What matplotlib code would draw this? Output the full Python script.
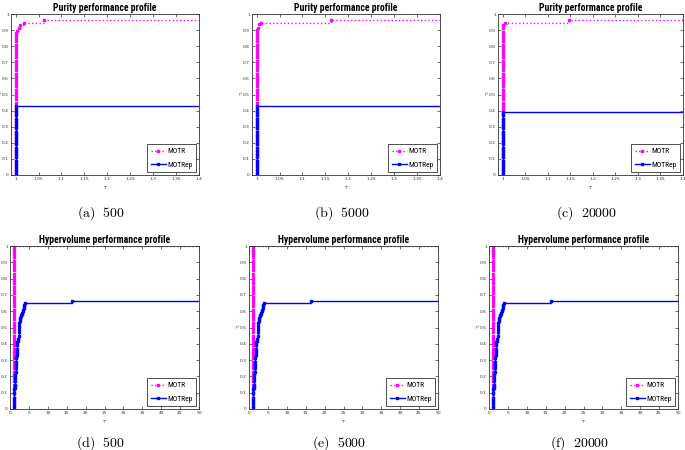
import matplotlib
matplotlib.use("Agg")
import matplotlib.pyplot as plt
from matplotlib import font_manager

plt.rcParams['mathtext.fontset'] = 'cm'

# ---------------- data ----------------
captions = ["(a)  500", "(b)  5000", "(c)  20000", "(d)  500", "(e)  5000", "(f)  20000"]
titles = ["Purity performance profile"] * 3 + ["Hypervolume performance profile"] * 3
series_names = ["MOTR", "MOTRep"]

purity_xticks = [1, 1.05, 1.1, 1.15, 1.2, 1.25, 1.3, 1.35, 1.4]
purity_xticklabels = ["1", "1.05", "1.1", "1.15", "1.2", "1.25", "1.3", "1.35", "1.4"]
hv_xticks = [0, 5, 10, 15, 20, 25, 30, 35, 40, 45, 50]
hv_xticklabels = ["0", "5", "10", "15", "20", "25", "30", "35", "40", "45", "50"]
yticks = [0, 0.1, 0.2, 0.3, 0.4, 0.5, 0.6, 0.7, 0.8, 0.9, 1]
yticklabels = ["0", "0.1", "0.2", "0.3", "0.4", "0.5", "0.6", "0.7", "0.8", "0.9", "1"]

# Purity, 500
pa_motr_tau = [1, 1, 1, 1, 1, 1, 1, 1, 1, 1,
               1, 1, 1, 1, 1, 1, 1, 1, 1, 1,
               1, 1, 1, 1, 1, 1, 1, 1, 1, 1,
               1, 1, 1, 1, 1, 1, 1, 1, 1, 1,
               1, 1, 1, 1,
               1.001, 1.003, 1.007, 1.010, 1.019, 1.063, 1.4]
pa_motr_rho = [0.01, 0.03, 0.05, 0.07, 0.09, 0.11, 0.13, 0.15, 0.17, 0.19,
               0.21, 0.23, 0.25, 0.27, 0.29, 0.31, 0.33, 0.35, 0.37, 0.39,
               0.41, 0.43, 0.45, 0.47, 0.49, 0.51, 0.53, 0.55, 0.57, 0.59,
               0.61, 0.63, 0.65, 0.67, 0.69, 0.71, 0.73, 0.75, 0.77, 0.79,
               0.81, 0.83, 0.85, 0.87,
               0.88, 0.895, 0.915, 0.93, 0.946, 0.963, 0.963]
pa_rep_tau = [1, 1, 1, 1, 1, 1, 1, 1, 1, 1,
              1, 1, 1, 1, 1, 1, 1, 1, 1, 1,
              1, 1, 1.4]
pa_rep_rho = [0.01, 0.03, 0.05, 0.07, 0.09, 0.11, 0.13, 0.15, 0.17, 0.19,
              0.21, 0.23, 0.25, 0.27, 0.29, 0.31, 0.33, 0.35, 0.37, 0.39,
              0.41, 0.427, 0.427]

# Purity, 5000
pb_motr_tau = [1, 1, 1, 1, 1, 1, 1, 1, 1, 1,
               1, 1, 1, 1, 1, 1, 1, 1, 1, 1,
               1, 1, 1, 1, 1, 1, 1, 1, 1, 1,
               1, 1, 1, 1, 1, 1, 1, 1, 1, 1,
               1, 1, 1, 1, 1, 1,
               1.002, 1.005, 1.009, 1.162, 1.4]
pb_motr_rho = [0.01, 0.03, 0.05, 0.07, 0.09, 0.11, 0.13, 0.15, 0.17, 0.19,
               0.21, 0.23, 0.25, 0.27, 0.29, 0.31, 0.33, 0.35, 0.37, 0.39,
               0.41, 0.43, 0.45, 0.47, 0.49, 0.51, 0.53, 0.55, 0.57, 0.59,
               0.61, 0.63, 0.65, 0.67, 0.69, 0.71, 0.73, 0.75, 0.77, 0.79,
               0.81, 0.83, 0.85, 0.87, 0.89, 0.90,
               0.915, 0.935, 0.946, 0.963, 0.963]
pb_rep_tau = [1, 1, 1, 1, 1, 1, 1, 1, 1, 1,
              1, 1, 1, 1, 1, 1, 1, 1, 1, 1,
              1, 1, 1.4]
pb_rep_rho = [0.01, 0.03, 0.05, 0.07, 0.09, 0.11, 0.13, 0.15, 0.17, 0.19,
              0.21, 0.23, 0.25, 0.27, 0.29, 0.31, 0.33, 0.35, 0.37, 0.39,
              0.41, 0.427, 0.427]

# Purity, 20000
pc_motr_tau = [1, 1, 1, 1, 1, 1, 1, 1, 1, 1,
               1, 1, 1, 1, 1, 1, 1, 1, 1, 1,
               1, 1, 1, 1, 1, 1, 1, 1, 1, 1,
               1, 1, 1, 1, 1, 1, 1, 1, 1, 1,
               1, 1, 1, 1, 1, 1, 1,
               1.0065, 1.147, 1.4]
pc_motr_rho = [0.01, 0.03, 0.05, 0.07, 0.09, 0.11, 0.13, 0.15, 0.17, 0.19,
               0.21, 0.23, 0.25, 0.27, 0.29, 0.31, 0.33, 0.35, 0.37, 0.39,
               0.41, 0.43, 0.45, 0.47, 0.49, 0.51, 0.53, 0.55, 0.57, 0.59,
               0.61, 0.63, 0.65, 0.67, 0.69, 0.71, 0.73, 0.75, 0.77, 0.79,
               0.81, 0.83, 0.85, 0.87, 0.89, 0.91, 0.932,
               0.946, 0.963, 0.963]
pc_rep_tau = [1, 1, 1, 1, 1, 1, 1, 1, 1, 1,
              1, 1, 1, 1, 1, 1, 1, 1, 1, 1,
              1.4]
pc_rep_rho = [0.01, 0.03, 0.05, 0.07, 0.09, 0.11, 0.13, 0.15, 0.17, 0.19,
              0.21, 0.23, 0.25, 0.27, 0.29, 0.31, 0.33, 0.35, 0.37, 0.39,
              0.39]

# Hypervolume (same shape for 500 / 5000 / 20000)
hv_motr_tau = [1, 1, 1, 1, 1, 1, 1, 1, 1, 1,
               1, 1, 1, 1, 1, 1, 1, 1, 1, 1,
               1, 1, 1, 1, 1, 1, 1, 1, 1, 1,
               1, 1, 1, 1, 1, 1, 1, 1, 1, 1,
               1, 1, 1, 1, 1, 1, 1, 1, 1, 1,
               1, 50]
hv_motr_rho = [0.01, 0.03, 0.05, 0.07, 0.09, 0.11, 0.13, 0.15, 0.17, 0.19,
               0.21, 0.23, 0.25, 0.27, 0.29, 0.31, 0.33, 0.35, 0.37, 0.39,
               0.41, 0.43, 0.45, 0.47, 0.49, 0.51, 0.53, 0.55, 0.57, 0.59,
               0.61, 0.63, 0.65, 0.67, 0.69, 0.71, 0.73, 0.75, 0.77, 0.79,
               0.81, 0.83, 0.85, 0.87, 0.89, 0.91, 0.93, 0.95, 0.97, 0.99,
               1.0, 1.0]
hv_rep_tau = [1.0, 1.02, 1.05, 1.08, 1.1, 1.15, 1.2, 1.25, 1.3, 1.35,
              1.4, 1.45, 1.5, 1.55, 1.6, 1.65, 1.7, 1.75, 1.8, 1.85,
              1.9, 1.95, 2.0, 2.2, 2.3, 2.35, 2.4, 2.45, 2.5, 2.55,
              2.6, 2.7, 2.8, 3.0, 3.2, 3.3, 3.4, 3.5, 3.6, 3.7,
              3.8, 3.9, 16.3, 50]
hv_rep_rho = [0.01, 0.03, 0.05, 0.07, 0.10, 0.12, 0.13, 0.14, 0.15, 0.17,
              0.19, 0.21, 0.23, 0.25, 0.27, 0.29, 0.31, 0.33, 0.35, 0.37,
              0.39, 0.41, 0.42, 0.43, 0.45, 0.47, 0.49, 0.51, 0.53, 0.54,
              0.55, 0.56, 0.57, 0.575, 0.58, 0.59, 0.60, 0.61, 0.62, 0.63,
              0.64, 0.65, 0.665, 0.665]

panels = [
    (pa_motr_tau, pa_motr_rho, pa_rep_tau, pa_rep_rho),
    (pb_motr_tau, pb_motr_rho, pb_rep_tau, pb_rep_rho),
    (pc_motr_tau, pc_motr_rho, pc_rep_tau, pc_rep_rho),
    (hv_motr_tau, hv_motr_rho, hv_rep_tau, hv_rep_rho),
    (hv_motr_tau, hv_motr_rho, hv_rep_tau, hv_rep_rho),
    (hv_motr_tau, hv_motr_rho, hv_rep_tau, hv_rep_rho),
]

# ---------------- fonts ----------------
entries = font_manager.fontManager.ttflist
names = {f.name for f in entries}
narrow = dict(family='Liberation Sans')
title_size = 6.4
for cand in ['Liberation Sans Narrow', 'Roboto Condensed', 'Open Sans Condensed',
             'Noto Sans Condensed']:
    if cand in names:
        narrow = dict(family=cand)
        title_size = 7.0
        break
else:
    if any(f.name == 'DejaVu Sans' and f.stretch == 'condensed' for f in entries):
        narrow = dict(family='DejaVu Sans', stretch='condensed')
        title_size = 6.9

# ---------------- layout ----------------
W, H = 685, 450
boxes = [
    (11, 14, 199, 175),
    (252, 14, 440, 175),
    (498, 14, 683, 175),
    (10, 246, 199, 409),
    (249, 246, 438, 409),
    (489, 246, 678, 409),
]
caption_y = [213, 213, 213, 443, 443, 443]

fig = plt.figure(figsize=(W / 100, H / 100), dpi=100)

for i, (l, t, r, b) in enumerate(boxes):
    ax = fig.add_axes([l / W, 1 - b / H, (r - l) / W, (b - t) / H])
    m_tau, m_rho, e_tau, e_rho = panels[i]
    ax.step(m_tau, m_rho, where='post', color='#ff00ff', linestyle=':', linewidth=1.0,
            marker='s', markersize=1.9, markevery=slice(0, len(m_tau) - 1),
            label=series_names[0])
    ax.step(e_tau, e_rho, where='post', color='#0000ff', linestyle='-', linewidth=1.0,
            marker='s', markersize=1.9, markevery=slice(0, len(e_tau) - 1),
            label=series_names[1])
    if i < 3:
        ax.set_xlim(0.99, 1.4)
        ax.set_xticks(purity_xticks)
        ax.set_xticklabels(purity_xticklabels)
    else:
        ax.set_xlim(0, 50)
        ax.set_xticks(hv_xticks)
        ax.set_xticklabels(hv_xticklabels)
    ax.set_ylim(0, 1)
    ax.set_yticks(yticks)
    ax.set_yticklabels(yticklabels)
    ax.tick_params(direction='in', top=True, right=True, length=2, width=0.5,
                   labelsize=3.2, pad=1.5, colors='#333333')
    for s in ax.spines.values():
        s.set_linewidth(0.6)
        s.set_color('#333333')
    ax.set_title(titles[i], fontweight='bold', pad=2.5, size=title_size, **narrow)
    ax.set_xlabel(r'$\tau$', fontsize=4, labelpad=2)
    ax.annotate(r'$\rho$', xy=(0, 0.5), xycoords='axes fraction',
                xytext=(-9.5, 0), textcoords='offset pixels',
                fontsize=3.5, ha='right', va='center')
    leg = ax.legend(loc='lower right', prop=dict(size=5.4, **narrow), handlelength=2.0,
                    borderaxespad=0.35, borderpad=0.5, labelspacing=0.8,
                    fancybox=False, edgecolor='#333333', framealpha=1,
                    handletextpad=0.2)
    leg.get_frame().set_linewidth(0.6)
    fig.text(((l + r) / 2 - 4) / W, 1 - caption_y[i] / H,
             r'$\mathrm{' + captions[i].replace(' ', r'\ ') + '}$',
             fontsize=10, ha='center', va='center')

fig.savefig('out.png', dpi=100)
